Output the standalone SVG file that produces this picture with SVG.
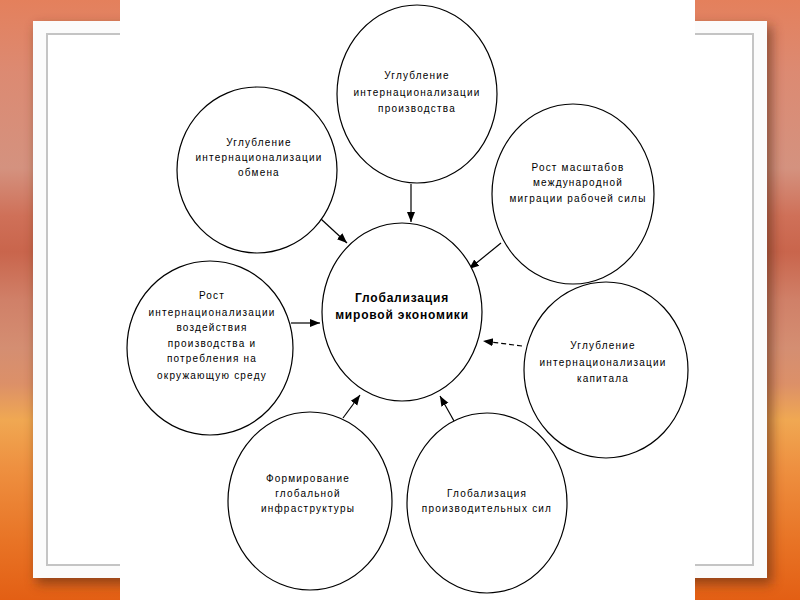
<svg xmlns="http://www.w3.org/2000/svg" width="800" height="600" viewBox="0 0 800 600">
<defs>
<linearGradient id="bg" x1="0" y1="0" x2="0" y2="1">
<stop offset="0" stop-color="#e4805c"/>
<stop offset="0.12" stop-color="#dc8a72"/>
<stop offset="0.28" stop-color="#d4927f"/>
<stop offset="0.36" stop-color="#cf7058"/>
<stop offset="0.42" stop-color="#c9654c"/>
<stop offset="0.5" stop-color="#d08068"/>
<stop offset="0.58" stop-color="#d48e72"/>
<stop offset="0.64" stop-color="#dc9068"/>
<stop offset="0.7" stop-color="#f0a852"/>
<stop offset="0.78" stop-color="#ee9040"/>
<stop offset="0.9" stop-color="#e87426"/>
<stop offset="1" stop-color="#e35f14"/>
</linearGradient>
<filter id="sh" x="-10%" y="-10%" width="120%" height="120%">
<feGaussianBlur stdDeviation="6"/>
</filter>
<marker id="ah" viewBox="0 0 10 10" refX="10" refY="5" markerWidth="10" markerHeight="10" markerUnits="userSpaceOnUse" orient="auto">
<path d="M0,1 L10,5 L0,9 Z" fill="#000"/>
</marker>
<style>
.node ellipse{fill:#fff;stroke:#000;stroke-width:1.2}
.t{font-family:"Liberation Sans",Arial,sans-serif;font-size:10px;letter-spacing:1.2px;text-anchor:middle;fill:#000}
.tb{font-family:"Liberation Sans",Arial,sans-serif;font-size:12px;font-weight:bold;letter-spacing:0.8px;text-anchor:middle;fill:#000}
.c{stroke:#000;stroke-width:1.2;fill:none;marker-end:url(#ah)}
.d{stroke-dasharray:5 3}
</style>
</defs>
<rect x="0" y="0" width="800" height="600" fill="url(#bg)"/>
<rect x="36" y="26" width="736" height="558" fill="#5a2a18" opacity="0.6" filter="url(#sh)"/>
<rect x="33" y="21" width="734" height="557" fill="#fbfbfb"/>
<rect x="47" y="34" width="706" height="531" fill="#fff" stroke="#c4c4c4" stroke-width="2"/>
<rect x="120" y="0" width="575" height="600" fill="#fff"/>

<g id="connectors">
<line class="c" x1="411" y1="184" x2="411" y2="222"/>
<line class="c" x1="321" y1="219" x2="347" y2="243"/>
<line class="c" x1="501" y1="243" x2="469" y2="269"/>
<line class="c" x1="291" y1="323" x2="320" y2="323"/>
<line class="c d" x1="522" y1="346" x2="483" y2="341"/>
<line class="c" x1="343" y1="418" x2="360" y2="395"/>
<line class="c" x1="454" y1="421" x2="440" y2="396"/>
</g>

<g id="n-top" class="node">
<ellipse cx="417" cy="94" rx="80" ry="89"/>
<text class="t" x="417" y="79">Углубление</text>
<text class="t" x="417" y="96">интернационализации</text>
<text class="t" x="417" y="112">производства</text>
</g>
<g id="n-exchange" class="node">
<ellipse cx="257" cy="170" rx="80" ry="83"/>
<text class="t" x="259" y="146">Углубление</text>
<text class="t" x="259" y="161">интернационализации</text>
<text class="t" x="259" y="176">обмена</text>
</g>
<g id="n-migration" class="node">
<ellipse cx="573" cy="194" rx="81" ry="90"/>
<text class="t" x="578" y="171">Рост масштабов</text>
<text class="t" x="578" y="186">международной</text>
<text class="t" x="578" y="202">миграции рабочей силы</text>
</g>
<g id="n-environment" class="node">
<ellipse cx="210" cy="348" rx="83" ry="87"/>
<text class="t" x="212" y="299">Рост</text>
<text class="t" x="212" y="316">интернационализации</text>
<text class="t" x="212" y="331">воздействия</text>
<text class="t" x="212" y="347">производства и</text>
<text class="t" x="212" y="362">потребления на</text>
<text class="t" x="212" y="379">окружающую среду</text>
</g>
<g id="n-center" class="node">
<ellipse cx="402" cy="312" rx="80" ry="89"/>
<text class="tb" x="402" y="302">Глобализация</text>
<text class="tb" x="402" y="319">мировой экономики</text>
</g>
<g id="n-capital" class="node">
<ellipse cx="606" cy="370" rx="82" ry="88"/>
<text class="t" x="603" y="349">Углубление</text>
<text class="t" x="603" y="366">интернационализации</text>
<text class="t" x="603" y="382">капитала</text>
</g>
<g id="n-infra" class="node">
<ellipse cx="310" cy="501" rx="82" ry="89"/>
<text class="t" x="308" y="482">Формирование</text>
<text class="t" x="308" y="497">глобальной</text>
<text class="t" x="308" y="512">инфраструктуры</text>
</g>
<g id="n-forces" class="node">
<ellipse cx="487" cy="503" rx="80" ry="90"/>
<text class="t" x="487" y="497">Глобализация</text>
<text class="t" x="487" y="512">производительных сил</text>
</g>
</svg>
